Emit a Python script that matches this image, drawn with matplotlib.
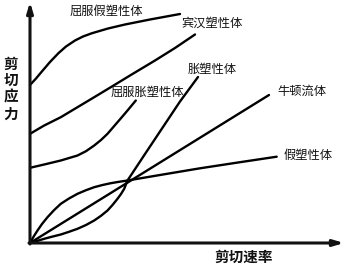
import matplotlib
matplotlib.use("Agg")
import matplotlib.pyplot as plt

plt.rcParams['font.family'] = ['Noto Sans CJK SC', 'DejaVu Sans']

# Curves: (shear rate, shear stress) points
yield_pseudo_x = [0, 6, 11.7, 20, 28.3, 36, 45, 53, 61.7, 78, 95, 120, 150]
yield_pseudo_y = [158, 164.5, 171.3, 181, 189.7, 196.5, 202.5, 206.5, 209.7, 214.5, 218.5, 223.5, 229]

bingham_x = [0, 14.2, 30.8, 47.5, 64.2, 80.8, 100, 125, 145, 165]
bingham_y = [109.2, 117.5, 125.8, 135.8, 145.8, 155.8, 167.5, 182.5, 195, 208.5]

yield_dil_x = [0, 14.2, 30.8, 47.5, 56, 64.2, 71, 77.5, 82.5, 87.5, 92.5, 97.5, 105.8]
yield_dil_y = [75.2, 78.5, 82.5, 87.5, 91.8, 97.5, 103, 109.2, 115, 120.8, 126.6, 132.5, 142.5]

dilatant_x = [0, 7, 14.2, 22, 30.8, 39, 47.5, 56, 64.2, 71, 77.5, 82.5, 87.5, 91, 94.2, 97.5, 115, 133, 150, 168]
dilatant_y = [0, 2, 4.2, 6.3, 8.5, 11.2, 14.2, 18, 22.5, 27.2, 32.5, 38, 44.2, 49, 54.2, 62.5, 89, 116, 141.5, 166]

newton_x = [0, 239]
newton_y = [0, 148]

pseudo_x = [0, 3.5, 7.5, 12, 17.5, 24, 30.8, 39, 47.5, 56, 64.2, 72.5, 80.8, 89, 97.5, 130, 170, 210, 246.7]
pseudo_y = [0, 6.2, 12.5, 19, 25.8, 32.8, 39.2, 44.5, 49.2, 52.8, 55.8, 58, 59.8, 61.2, 62.5, 68, 74.7, 80.8, 86.3]

labels = ['屈服假塑性体', '宾汉塑性体', '胀塑性体', '屈服胀塑性体', '牛顿流体', '假塑性体']
x_title = '剪切速率'
y_title = '剪\n切\n应\n力'

fig = plt.figure(figsize=(3.47, 2.65), dpi=100)
ax = fig.add_axes([0, 0, 1, 1])
ax.set_xlim(-30, 317)
ax.set_ylim(-22, 243)
ax.axis('off')

lw = 1.7
for xs, ys in [(yield_pseudo_x, yield_pseudo_y), (bingham_x, bingham_y),
               (yield_dil_x, yield_dil_y), (dilatant_x, dilatant_y),
               (newton_x, newton_y), (pseudo_x, pseudo_y)]:
    ax.plot(xs, ys, color='black', lw=lw, solid_capstyle='round', solid_joinstyle='round')

# axes with arrows
ax.annotate('', xy=(0, 241), xytext=(0, -1),
            arrowprops=dict(arrowstyle='-|>,head_length=0.6,head_width=0.18', color='#111111', lw=2.2, shrinkA=0, shrinkB=0))
ax.annotate('', xy=(314, 0), xytext=(-1, 0),
            arrowprops=dict(arrowstyle='-|>,head_length=0.6,head_width=0.18', color='#111111', lw=2.2, shrinkA=0, shrinkB=0))

fs = 8.8
pos = [(76.7, 231.3), (182.5, 219.7), (182.5, 173.7), (117, 150.3), (271.7, 151.3), (278.3, 87.3)]
for lab, (x, y) in zip(labels, pos):
    ax.text(x, y, lab, fontsize=fs, fontweight='medium', ha='center', va='center', color='#111111')

ax.text(213.3, -13.7, x_title, fontsize=10.5, fontweight='bold', ha='center', va='center', color='#111111')
ax.text(-19, 154.5, y_title, fontsize=10.5, fontweight='bold', ha='center', va='center',
        linespacing=1.05, color='#111111')

fig.savefig('out.png', dpi=100)
